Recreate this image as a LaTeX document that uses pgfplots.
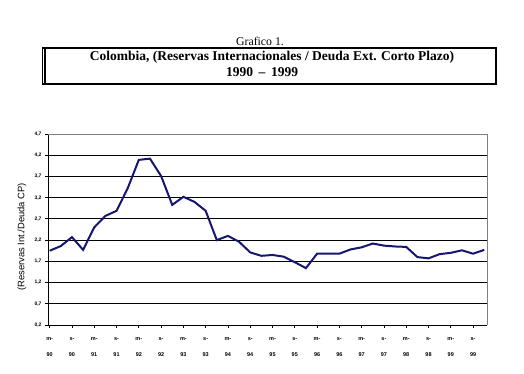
\documentclass[border=0pt]{standalone}
\usepackage{fontspec}
\setmainfont{Liberation Serif}
\setsansfont{Liberation Sans}
\usepackage{pgfplots}
\pgfplotsset{compat=1.18}
\definecolor{navyline}{RGB}{22,22,112}
\begin{document}
\begin{tikzpicture}
\path[use as bounding box] (0pt,0pt) rectangle (524pt,-374pt);
% titles
\node[anchor=base, font=\fontsize{11.8}{13}\selectfont] at (260pt,-45.5pt) {Grafico 1.};
\draw[line width=1.6pt] (42.3pt,-47.8pt) -- (496pt,-47.8pt) -- (496pt,-84pt) -- (42.3pt,-84pt);
\draw[line width=0.7pt] (42.3pt,-47.8pt) -- (42.3pt,-84pt);
\draw[line width=1.4pt] (45pt,-47.8pt) -- (45pt,-84pt);
\node[anchor=base, font=\fontsize{13.5}{15}\selectfont\bfseries] at (272pt,-61pt) {Colombia, (Reservas Internacionales / Deuda Ext. Corto Plazo)};
\node[anchor=base, font=\fontsize{13.5}{15}\selectfont\bfseries] at (262pt,-77pt) {1990 \,--\, 1999};
% y label
\node[rotate=90, font=\fontsize{9.4}{11}\selectfont\sffamily] at (22pt,-237pt) {(Reservas Int./Deuda CP)};
\begin{axis}[
  at={(48pt,-325pt)}, anchor=south west,
  scale only axis, width=439pt, height=191pt,
  xmin=-0.15, xmax=39.25, ymin=0.2, ymax=4.7,
  axis x line*=bottom, axis y line*=left,
  axis line style={-, black, line width=0.9pt},
  ytick={0.2,0.7,1.2,1.7,2.2,2.7,3.2,3.7,4.2,4.7},
  yticklabels={{0,2},{0,7},{1,2},{1,7},{2,2},{2,7},{3,2},{3,7},{4,2},{4,7}},
  xtick={0,2,...,38},
  xticklabels={{m-\\90},{s-\\90},{m-\\91},{s-\\91},{m-\\92},{s-\\92},{m-\\93},{s-\\93},{m-\\94},{s-\\94},{m-\\95},{s-\\95},{m-\\96},{s-\\96},{m-\\97},{s-\\97},{m-\\98},{s-\\98},{m-\\99},{s-\\99}},
  xticklabel style={align=center, font=\fontsize{5.5}{16}\selectfont\bfseries\sffamily, yshift=-6pt},
  yticklabel style={font=\fontsize{5}{6}\selectfont\bfseries\sffamily},
  tick align=outside, major tick length=3pt,
  tick style={black, line width=0.8pt},
  ymajorgrids, grid style={black, line width=0.8pt},
  clip=false,
]
\addplot[navyline, line width=2pt, mark=none] coordinates {
(0,1.95) (1,2.06) (2,2.27) (3,1.97) (4,2.50) (5,2.77) (6,2.89) (7,3.42)
(8,4.09) (9,4.12) (10,3.71) (11,3.03) (12,3.22) (13,3.10) (14,2.89) (15,2.20)
(16,2.30) (17,2.16) (18,1.91) (19,1.83) (20,1.85) (21,1.81) (22,1.68) (23,1.54)
(24,1.88) (25,1.88) (26,1.88) (27,1.98) (28,2.03) (29,2.12) (30,2.07) (31,2.05)
(32,2.04) (33,1.80) (34,1.77) (35,1.87) (36,1.90) (37,1.96) (38,1.88) (39,1.97)
};
\draw[gray, line width=0.9pt] (rel axis cs:0,1) -- (rel axis cs:1,1) -- (rel axis cs:1,0);
\end{axis}
\end{tikzpicture}
\end{document}
